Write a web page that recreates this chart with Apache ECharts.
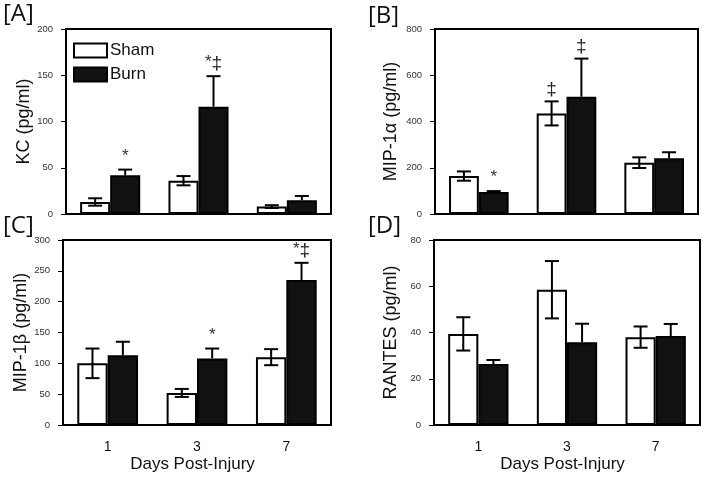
<!DOCTYPE html>
<html><head><meta charset="utf-8">
<script src="https://cdn.jsdelivr.net/npm/echarts@6/dist/echarts.min.js"></script>
<style>html,body{margin:0;padding:0;background:#fff}#c{width:706px;height:478px}</style>
</head><body><div id="c"></div>
<script>
const categories = ['1', '3', '7'];
const seriesNames = ['Sham', 'Burn'];
const xAxisTitle = 'Days Post-Injury';

// [A] KC
const kcSham = [13, 36, 8];
const kcShamErr = [4, 5, 1.5];
const kcBurn = [42, 116, 15];
const kcBurnErr = [6, 33, 4.5];
const kcShamMarks = ['', '', ''];
const kcBurnMarks = ['*', '*‡', ''];
const kcTicks = [0, 200, 50];

// [B] MIP-1α
const mip1aSham = [164, 435, 222];
const mip1aShamErr = [20, 52, 23];
const mip1aBurn = [95, 507, 241];
const mip1aBurnErr = [4, 165, 26];
const mip1aShamMarks = ['', '‡', ''];
const mip1aBurnMarks = ['*', '‡', ''];
const mip1aTicks = [0, 800, 200];

// [C] MIP-1β
const mip1bSham = [100, 52, 110];
const mip1bShamErr = [24, 6.5, 13];
const mip1bBurn = [113, 108, 235];
const mip1bBurnErr = [22, 16, 28];
const mip1bShamMarks = ['', '', ''];
const mip1bBurnMarks = ['', '*', '*‡'];
const mip1bTicks = [0, 300, 50];

// [D] RANTES
const rantesSham = [39.4, 58.5, 38];
const rantesShamErr = [7.2, 12.4, 4.6];
const rantesBurn = [26.4, 35.8, 38.5];
const rantesBurnErr = [1.7, 8, 5.2];
const rantesShamMarks = ['', '', ''];
const rantesBurnMarks = ['', '', ''];
const rantesTicks = [0, 80, 20];

const panels = [
  {label: '[A]', yName: 'KC (pg/ml)', ticks: kcTicks, sham: kcSham, shamErr: kcShamErr, burn: kcBurn, burnErr: kcBurnErr, shamMarks: kcShamMarks, burnMarks: kcBurnMarks,
   grid: {left: 66, top: 29, width: 265, height: 185}, lab: [3, 2], nameGap: 30, bottomRow: false},
  {label: '[B]', yName: 'MIP-1α (pg/ml)', ticks: mip1aTicks, sham: mip1aSham, shamErr: mip1aShamErr, burn: mip1aBurn, burnErr: mip1aBurnErr, shamMarks: mip1aShamMarks, burnMarks: mip1aBurnMarks,
   grid: {left: 435, top: 29, width: 263, height: 185}, lab: [368, 4], nameGap: 35, bottomRow: false},
  {label: '[C]', yName: 'MIP-1β (pg/ml)', ticks: mip1bTicks, sham: mip1bSham, shamErr: mip1bShamErr, burn: mip1bBurn, burnErr: mip1bBurnErr, shamMarks: mip1bShamMarks, burnMarks: mip1bBurnMarks,
   grid: {left: 63, top: 240, width: 268, height: 185}, lab: [3, 214], nameGap: 28, bottomRow: true},
  {label: '[D]', yName: 'RANTES (pg/ml)', ticks: rantesTicks, sham: rantesSham, shamErr: rantesShamErr, burn: rantesBurn, burnErr: rantesBurnErr, shamMarks: rantesShamMarks, burnMarks: rantesBurnMarks,
   grid: {left: 434, top: 240, width: 266, height: 185}, lab: [368, 214], nameGap: 34, bottomRow: true}
];

const BAR_FRAC = 0.34;
const FONT = '"Liberation Sans", Arial, sans-serif';

function errRender(sign, upperOnly) {
  return function (params, api) {
    const i = api.value(0), v = api.value(1), e = api.value(2);
    const band = api.size([1, 0])[0];
    const bw = band * BAR_FRAC;
    const cx = api.coord([i, v])[0] + sign * bw / 2;
    const yMid = api.coord([i, v])[1];
    const yTop = api.coord([i, v + e])[1];
    const yBot = upperOnly ? yMid : api.coord([i, v - e])[1];
    const cap = 7;
    const st = {stroke: '#000', lineWidth: 2};
    const ch = [
      {type: 'line', shape: {x1: cx, y1: yTop, x2: cx, y2: yBot}, style: st},
      {type: 'line', shape: {x1: cx - cap, y1: yTop, x2: cx + cap, y2: yTop}, style: st}
    ];
    if (!upperOnly) ch.push({type: 'line', shape: {x1: cx - cap, y1: yBot, x2: cx + cap, y2: yBot}, style: st});
    return {type: 'group', children: ch};
  };
}
function richMark(t) {
  return t.split('').map(c => c === '*' ? '{a|*}' : '{d|‡}').join('');
}
function markRender(sign, marks) {
  return function (params, api) {
    const i = api.value(0), v = api.value(1), e = api.value(2);
    const txt = marks[params.dataIndex];
    if (!txt) return null;
    const band = api.size([1, 0])[0];
    const bw = band * BAR_FRAC;
    const cx = api.coord([i, v])[0] + sign * bw / 2;
    const yTop = api.coord([i, v + e])[1];
    return {type: 'text', x: cx, y: yTop - 2, style: {
      text: richMark(txt), align: 'center', verticalAlign: 'bottom',
      rich: {
        a: {fontSize: 17, fontFamily: FONT, fill: '#333', verticalAlign: 'top', lineHeight: 20},
        d: {fontSize: 19, fontFamily: FONT, fill: '#222', lineHeight: 20}
      }
    }};
  };
}

const option = {
  animation: false,
  backgroundColor: '#fff',
  grid: [], xAxis: [], yAxis: [], series: [], graphic: [],
  legend: {
    left: 73, top: 42, orient: 'vertical', itemWidth: 33, itemHeight: 14, itemGap: 7, padding: 0,
    textStyle: {fontSize: 17, fontFamily: FONT, color: '#111', padding: [0, 0, 0, -2]},
    data: [
      {name: 'Sham', icon: 'rect', itemStyle: {color: '#fff', borderColor: '#000', borderWidth: 2}},
      {name: 'Burn', icon: 'rect', itemStyle: {color: '#111', borderColor: '#000', borderWidth: 2}}
    ]
  }
};

panels.forEach((p, k) => {
  option.grid.push(Object.assign({show: true, borderColor: '#000', borderWidth: 2, backgroundColor: 'transparent'}, p.grid));
  option.xAxis.push({
    type: 'category', gridIndex: k, data: categories,
    axisLine: {lineStyle: {color: '#000', width: 2}}, axisTick: {show: false},
    axisLabel: {show: p.bottomRow, fontSize: 14, fontFamily: FONT, color: '#111', margin: 15},
    name: p.bottomRow ? xAxisTitle : '', nameLocation: 'middle', nameGap: 31,
    nameTextStyle: {fontSize: 17, fontFamily: FONT, color: '#111', padding: [0, 9, 0, 0]}
  });
  option.yAxis.push({
    type: 'value', gridIndex: k, min: p.ticks[0], max: p.ticks[1], interval: p.ticks[2],
    axisLine: {show: true, lineStyle: {color: '#000', width: 2}},
    axisTick: {show: true, length: 5, lineStyle: {color: '#000', width: 1}},
    splitLine: {show: false},
    axisLabel: {fontSize: 9.5, fontFamily: FONT, color: '#333', margin: 13},
    name: p.yName, nameLocation: 'middle', nameGap: p.nameGap,
    nameTextStyle: {fontSize: 18, fontFamily: FONT, color: '#111'}
  });
  option.series.push({
    name: 'Sham', type: 'bar', xAxisIndex: k, yAxisIndex: k, data: p.sham,
    barWidth: (BAR_FRAC * 100) + '%', barGap: '0%',
    itemStyle: {color: '#fff', borderColor: '#000', borderWidth: 2}
  });
  option.series.push({
    name: 'Burn', type: 'bar', xAxisIndex: k, yAxisIndex: k, data: p.burn,
    barWidth: (BAR_FRAC * 100) + '%', barGap: '0%',
    itemStyle: {color: '#111', borderColor: '#000', borderWidth: 2}
  });
  const shamData = p.sham.map((v, i) => [i, v, p.shamErr[i]]);
  const burnData = p.burn.map((v, i) => [i, v, p.burnErr[i]]);
  option.series.push({type: 'custom', xAxisIndex: k, yAxisIndex: k, data: shamData, renderItem: errRender(-1, false), z: 5, silent: true, clip: false});
  option.series.push({type: 'custom', xAxisIndex: k, yAxisIndex: k, data: burnData, renderItem: errRender(1, true), z: 5, silent: true, clip: false});
  option.series.push({type: 'custom', xAxisIndex: k, yAxisIndex: k, data: shamData, renderItem: markRender(-1, p.shamMarks), z: 6, silent: true, clip: false});
  option.series.push({type: 'custom', xAxisIndex: k, yAxisIndex: k, data: burnData, renderItem: markRender(1, p.burnMarks), z: 6, silent: true, clip: false});
  option.graphic.push({type: 'text', left: p.lab[0], top: p.lab[1], style: {text: p.label, font: '24px "Open Sans", sans-serif', fill: '#111'}});
});

const chart = echarts.init(document.getElementById('c'), null, {renderer: 'canvas'});
chart.setOption(option);
</script>
</body></html>
